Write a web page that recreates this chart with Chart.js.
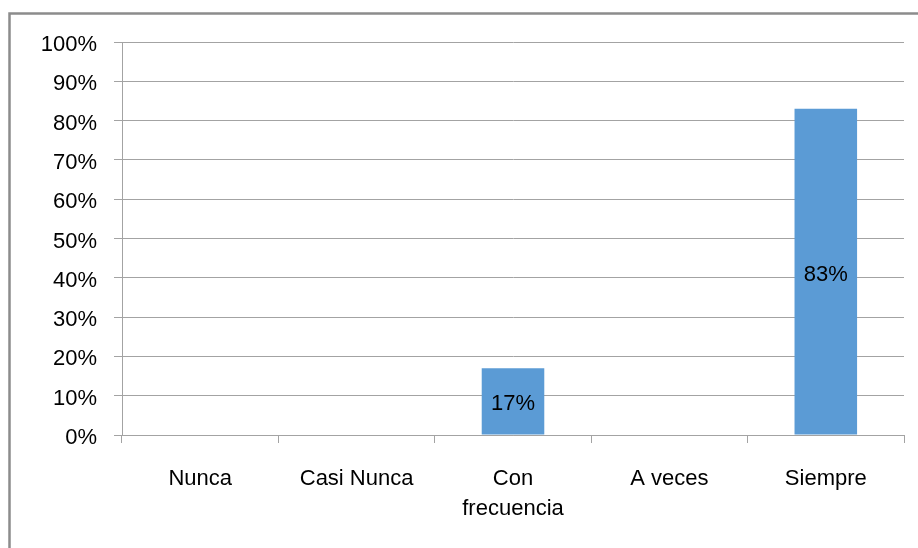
<!DOCTYPE html>
<html>
<head>
<meta charset="utf-8">
<script src="https://cdn.jsdelivr.net/npm/chart.js@4"></script>
<style>
  html, body { margin: 0; padding: 0; background: #fff; }
  canvas { display: block; }
</style>
</head>
<body>
<canvas id="chart" width="918" height="548"></canvas>
<script>
// frequency answers, in percent
const categories = ["Nunca", "Casi Nunca", ["Con", "frecuencia"], "A veces", "Siempre"];
const percents = [0, 0, 17, 0, 83];
const yTicks = [0, 10, 20, 30, 40, 50, 60, 70, 80, 90, 100];

const gridGray = "#a3a3a3";
const fontSpec = { family: "'Liberation Sans', Arial, sans-serif", size: 22, lineHeight: 1.36 };

// outer frame (top and left edge only, the rest runs off the canvas)
const framePlugin = {
  id: "frame",
  beforeDraw(chart) {
    const ctx = chart.ctx;
    ctx.save();
    ctx.fillStyle = "#fff";
    ctx.fillRect(0, 0, chart.width, chart.height);
    ctx.strokeStyle = "#8c8c8c";
    ctx.lineWidth = 2.5;
    ctx.beginPath();
    ctx.moveTo(9.5, chart.height);
    ctx.lineTo(9.5, 13.5);
    ctx.lineTo(chart.width, 13.5);
    ctx.stroke();
    ctx.restore();
  }
};

// value labels in the middle of each non-empty bar
const barLabels = {
  id: "barLabels",
  afterDatasetsDraw(chart) {
    const ctx = chart.ctx;
    const meta = chart.getDatasetMeta(0);
    ctx.save();
    ctx.font = fontSpec.size + "px " + fontSpec.family;
    ctx.fillStyle = "#000";
    ctx.textAlign = "center";
    ctx.textBaseline = "middle";
    meta.data.forEach((bar, i) => {
      const v = percents[i];
      if (!v) return;
      const mid = (bar.y + bar.base) / 2;
      ctx.fillText(v + "%", bar.x, mid + 3);
    });
    ctx.restore();
  }
};

new Chart(document.getElementById("chart"), {
  type: "bar",
  data: {
    labels: categories,
    datasets: [{
      data: percents,
      backgroundColor: "#5b9bd5",
      borderWidth: 0,
      barPercentage: 0.4,
      categoryPercentage: 1
    }]
  },
  options: {
    responsive: false,
    animation: false,
    layout: { padding: { top: 42, right: 14, bottom: 0, left: 0 } },
    plugins: {
      legend: { display: false },
      tooltip: { enabled: false }
    },
    scales: {
      x: {
        grid: {
          offset: true,
          drawOnChartArea: false,
          tickLength: 8,
          color: gridGray
        },
        border: { display: true, color: gridGray },
        ticks: { color: "#000", font: fontSpec, padding: 21, maxRotation: 0 },
        afterFit(scale) { scale.height = 113; }
      },
      y: {
        min: 0,
        max: 100,
        afterBuildTicks(scale) { scale.ticks = yTicks.map(v => ({ value: v })); },
        grid: { color: gridGray, tickLength: 8 },
        border: { display: true, color: gridGray },
        ticks: {
          color: "#000",
          font: fontSpec,
          padding: 17,
          labelOffset: 3,
          callback: (v) => v + "%"
        },
        afterFit(scale) { scale.width = 122; }
      }
    }
  },
  plugins: [framePlugin, barLabels]
});
</script>
</body>
</html>
